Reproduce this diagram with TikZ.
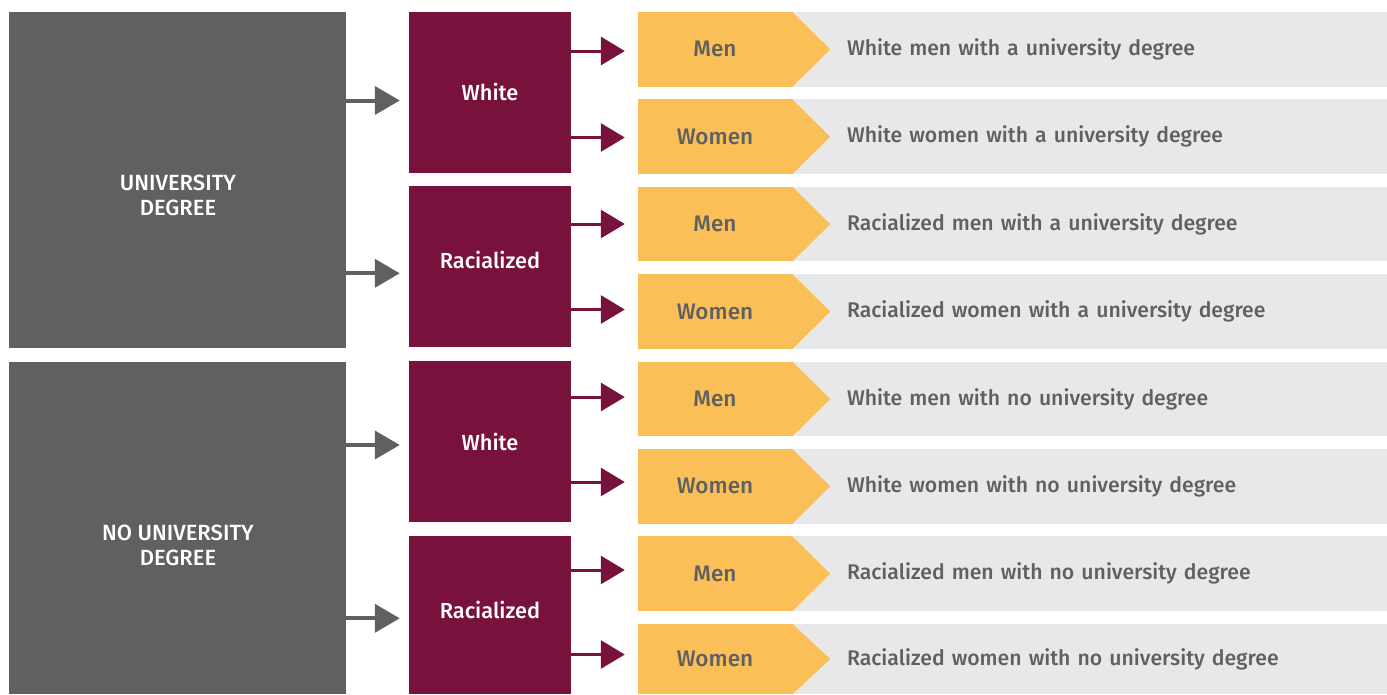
\documentclass[tikz,border=0pt]{standalone}
\usepackage{fontspec}
\setmainfont{Fira Sans Medium}
\usepackage{xcolor}
\usetikzlibrary{arrows.meta,positioning}
\definecolor{slate}{HTML}{5F6062}
\definecolor{wine}{HTML}{78123D}
\definecolor{gold}{HTML}{FBBF58}
\definecolor{pale}{HTML}{E7E8E7}

\begin{document}
\begin{tikzpicture}[x=1pt, y=-1pt,
		every node/.style={font=\fontsize{21.2}{24}\selectfont, inner sep=0pt},
		degree/.style={rectangle, fill=slate, minimum width=337pt},
		degtext/.style={text=white, align=center, font=\fontsize{22}{25}\selectfont},
		group/.style={rectangle, fill=wine, text=white, minimum width=162pt, font=\fontsize{21.8}{24}\selectfont},
		sex/.style={rectangle, fill=gold, text=slate, minimum width=154pt, minimum height=74.6pt, font=\fontsize{22.5}{24}\selectfont},
		desc/.style={rectangle, fill=pale, text=slate, minimum width=595pt, minimum height=74.6pt, text width=485pt, align=left},
		garr/.style={draw=slate, line width=4pt, -{Triangle[length=25pt, width=28pt]}, shorten >=9pt},
		marr/.style={draw=wine, line width=3pt, -{Triangle[length=24pt, width=28pt]}, shorten >=13pt}]
	\useasboundingbox (0,0) rectangle (1387,694);
	\node[degree, minimum height=335.5pt] (uni) at (177.5,179.75) {};
	\node[degree, minimum height=332pt] (nouni) at (177.5,528) {};
	\node[degtext] (unitext) at (178,195.5) {UNIVERSITY\\DEGREE};
	\node[degtext] (nounitext) at (178,545.5) {NO UNIVERSITY\\DEGREE};
	
	\node[group, minimum height=160.7pt] (w1) at (490,92.35) {White};
	\node[group, minimum height=161pt, text depth=13pt] (r1) at (490,266.5) {Racialized};
	\node[group, minimum height=161pt] (w2) at (490,441.6) {White};
	\node[group, minimum height=158pt, text depth=10pt] (r2) at (490,615) {Racialized};
	
	\node[desc] (d1) at (1089.5,49.35) {White men with a university degree};
	\node[desc] (d2) at (1089.5,136.75) {White women with a university degree};
	\node[desc] (d3) at (1089.5,224.15) {Racialized men with a university degree};
	\node[desc] (d4) at (1089.5,311.55) {Racialized women with a university degree};
	\node[desc] (d5) at (1089.5,398.95) {White men with no university degree};
	\node[desc] (d6) at (1089.5,486.35) {White women with no university degree};
	\node[desc] (d7) at (1089.5,573.75) {Racialized men with no university degree};
	\node[desc, minimum height=70.4pt] (d8) at (1089.5,659) {Racialized women with no university degree};
	
	\node[sex] (m1) at (715,49.35) {Men};
	\node[sex] (m2) at (715,136.75) {Women};
	\node[sex] (m3) at (715,224.15) {Men};
	\node[sex] (m4) at (715,311.55) {Women};
	\node[sex] (m5) at (715,398.95) {Men};
	\node[sex] (m6) at (715,486.35) {Women};
	\node[sex] (m7) at (715,573.75) {Men};
	\node[sex, minimum height=70.4pt] (m8) at (715,659) {Women};
	\fill[gold] (m1.north east) -- ([xshift=38pt]m1.east) -- (m1.south east) -- cycle;
	\fill[gold] (m2.north east) -- ([xshift=38pt]m2.east) -- (m2.south east) -- cycle;
	\fill[gold] (m3.north east) -- ([xshift=38pt]m3.east) -- (m3.south east) -- cycle;
	\fill[gold] (m4.north east) -- ([xshift=38pt]m4.east) -- (m4.south east) -- cycle;
	\fill[gold] (m5.north east) -- ([xshift=38pt]m5.east) -- (m5.south east) -- cycle;
	\fill[gold] (m6.north east) -- ([xshift=38pt]m6.east) -- (m6.south east) -- cycle;
	\fill[gold] (m7.north east) -- ([xshift=38pt]m7.east) -- (m7.south east) -- cycle;
	\fill[gold] (m8.north east) -- ([xshift=38pt]m8.east) -- (m8.south east) -- cycle;
	
	\draw[garr] (uni.east |- 0,100.5) -- (w1.west |- 0,100.5);
	\draw[garr] (uni.east |- 0,273.3) -- (r1.west |- 0,273.3);
	\draw[garr] (nouni.east |- 0,445) -- (w2.west |- 0,445);
	\draw[garr] (nouni.east |- 0,618.3) -- (r2.west |- 0,618.3);
	
	\draw[marr] (w1.east |- 0,51) -- (m1.west |- 0,51);
	\draw[marr] (w1.east |- 0,137.5) -- (m2.west |- 0,137.5);
	\draw[marr] (r1.east |- 0,224) -- (m3.west |- 0,224);
	\draw[marr] (r1.east |- 0,309.5) -- (m4.west |- 0,309.5);
	\draw[marr] (w2.east |- 0,397) -- (m5.west |- 0,397);
	\draw[marr] (w2.east |- 0,482) -- (m6.west |- 0,482);
	\draw[marr] (r2.east |- 0,570) -- (m7.west |- 0,570);
	\draw[marr] (r2.east |- 0,654.5) -- (m8.west |- 0,654.5);
\end{tikzpicture}
\end{document}
